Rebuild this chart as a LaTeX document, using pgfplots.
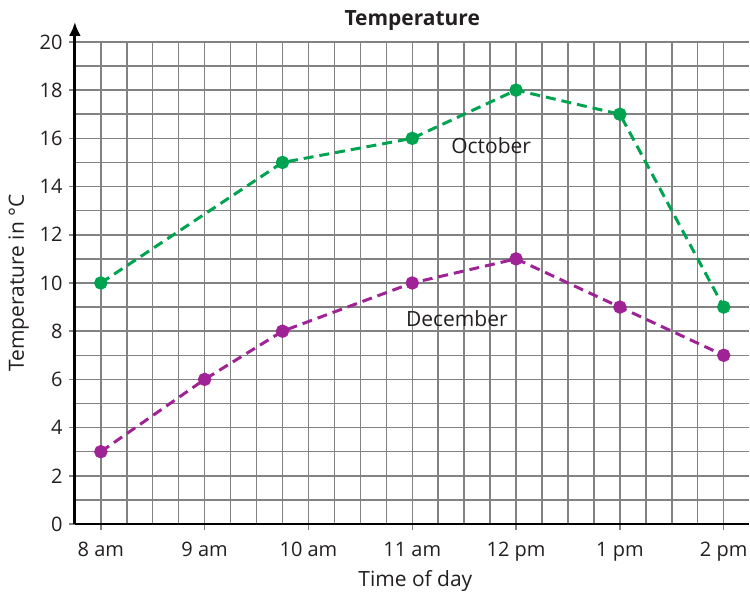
\documentclass[border=0pt]{standalone}
\usepackage{fontspec}
\setmainfont{Open Sans}
\usepackage{pgfplots}
\pgfplotsset{compat=1.18}
\usetikzlibrary{arrows.meta}
\definecolor{oct}{RGB}{0,163,80}
\definecolor{dec}{RGB}{160,35,150}
\definecolor{txt}{RGB}{35,31,32}
\definecolor{gridc}{RGB}{130,130,130}
\begin{document}
\begin{tikzpicture}
\begin{axis}[
  scale only axis,
  width=337.5pt, height=241.5pt,
  xmin=7.75, xmax=14.24, ymin=0, ymax=20,
  clip=false,
  axis x line=bottom, axis y line=left,
  x axis line style={-, line width=1.4pt, black},
  y axis line style={-{Latex[length=7pt,width=6pt]}, line width=1.4pt, black, shorten >=-10pt},
  xtick={8,9,10,11,12,13,14},
  xticklabels={8 am,9 am,10 am,11 am,12 pm,1 pm,2 pm},
  minor xtick={8.25,8.5,8.75,9.25,9.5,9.75,10.25,10.5,10.75,11.25,11.5,11.75,12.25,12.5,12.75,13.25,13.5,13.75},
  ytick={0,2,...,20},
  minor ytick={1,3,...,19},
  grid=both,
  major grid style={gridc, line width=0.75pt},
  minor grid style={gridc, line width=0.75pt},
  tick align=outside,
  major tick length=3pt,
  minor tick length=0pt,
  tick style={gridc, line width=0.75pt},
  /pgf/number format/assume math mode=true,
  ticklabel style={font=\fontsize{10}{12}\selectfont, text=txt},
  xticklabel style={anchor=north, inner sep=0pt, yshift=-6pt},
  yticklabel style={anchor=east, inner sep=0pt, xshift=-3pt},
]
\addplot[oct, line width=1.5pt, dash pattern=on 5pt off 3pt, mark=*, mark size=2.6pt, mark options={solid}]
  coordinates {(8,10) (9.75,15) (11,16) (12,18) (13,17) (14,9)};
\addplot[dec, line width=1.5pt, dash pattern=on 5pt off 3pt, mark=*, mark size=2.6pt, mark options={solid}]
  coordinates {(8,3) (9,6) (9.75,8) (11,10) (12,11) (13,9) (14,7)};
\node[anchor=base, font=\fontsize{10.5}{12}\selectfont\bfseries, text=txt] at ([yshift=8pt]axis cs:11,20) {Temperature};
\node[anchor=base, font=\fontsize{10.5}{12}\selectfont, text=txt] at (axis cs:11.76,15.36) {October};
\node[anchor=base, font=\fontsize{10.5}{12}\selectfont, text=txt] at (axis cs:11.43,8.2) {December};
\node[anchor=base, font=\fontsize{10.5}{12}\selectfont, text=txt] at ([yshift=-31.5pt]axis cs:11.03,0) {Time of day};
\node[anchor=base, rotate=90, font=\fontsize{10.5}{12}\selectfont, text=txt] at ([xshift=-25.5pt]axis cs:7.75,10) {Temperature in °C};
\path (rel axis cs:0,0) ++(-37.5pt,-36pt) coordinate (bl);
\path (rel axis cs:0,0) ++(337.5pt,262.5pt) coordinate (tr);
\path (bl) (tr);
\end{axis}
\end{tikzpicture}
\end{document}
